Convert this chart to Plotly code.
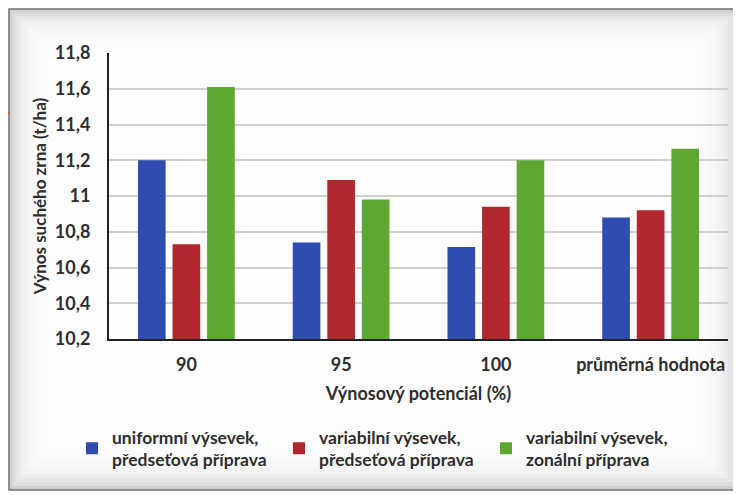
import plotly.graph_objects as go

categories = ["90", "95", "100", "průměrná hodnota"]
series_names = [
    "uniformní výsevek,<br>předseťová příprava",
    "variabilní výsevek,<br>předseťová příprava",
    "variabilní výsevek,<br>zonální příprava",
]
uniform_pred = [11.20, 10.74, 10.715, 10.88]
variab_pred = [10.73, 11.09, 10.94, 10.92]
variab_zon = [11.61, 10.98, 11.20, 11.265]
colors = ["#2F4DB0", "#B0282D", "#5EA832"]
y_ticks = [10.2, 10.4, 10.6, 10.8, 11.0, 11.2, 11.4, 11.6, 11.8]

# page has an 8px body margin; work in screen coordinates and convert
OFF = 8
SW, SH = 741, 495
W, H = SW - OFF, SH - OFF
PL, PR, PT, PB = 109, 728, 53, 339          # plot area in screen px
L, R, T, B = PL - OFF, SW - PR, PT - OFF, SH - PB
pw, ph = PR - PL, PB - PT
FONT = "Lato"
TXT = "#2e2e2e"

def px(x):
    return (x - PL) / pw

def py(y):
    return (PB - y) / ph

fig = go.Figure()
for name, vals, col in zip(series_names, [uniform_pred, variab_pred, variab_zon], colors):
    fig.add_trace(go.Bar(x=categories, y=vals, name=name, marker_color=col,
                         marker_line_width=0))

shapes = [
    dict(type="rect", xref="paper", yref="paper", x0=px(9), x1=px(760), y0=py(490), y1=py(9),
         fillcolor="#d0d0d0", line=dict(color="#6f6f6f", width=1.5), layer="below"),
]
for k in range(1, 12):
    shapes.append(dict(type="rect", xref="paper", yref="paper",
                       x0=px(9 + 3.5 * k), x1=px(741 - 4.5 * k),
                       y0=py(490 - 4 * k), y1=py(9 + 3.5 * k),
                       fillcolor="white", opacity=0.28, line=dict(width=0), layer="below"))
shapes.append(dict(type="line", xref="paper", yref="paper", x0=px(0), x1=px(10),
                   y0=py(113), y1=py(113), line=dict(color="#e0501a", width=1.5)))

fig.update_layout(
    width=W, height=H,
    margin=dict(l=L, r=R, t=T, b=B, autoexpand=False),
    paper_bgcolor="white", plot_bgcolor="white",
    separators=", ",
    barmode="group", bargap=0.33, bargroupgap=0.2,
    font=dict(family=FONT, size=17, color=TXT),
    shapes=shapes,
    showlegend=True,
    legend=dict(orientation="h", x=px(72), y=py(419), xanchor="left", yanchor="top",
                entrywidth=162, entrywidthmode="pixels", bgcolor="rgba(0,0,0,0)",
                itemwidth=30,
                font=dict(family=FONT, size=17.5, color=TXT, weight="bold"),
                traceorder="normal", itemclick=False),
    xaxis=dict(showline=True, linecolor="#222222", linewidth=2, automargin=False,
               tickfont=dict(family=FONT, size=18, color=TXT, weight="bold"),
               ticklabelstandoff=8,
               title=dict(text="Výnosový potenciál (%)", standoff=14,
                          font=dict(family=FONT, size=18, color=TXT, weight="bold"))),
    yaxis=dict(range=[10.2, 11.8], tickvals=y_ticks, showline=True, linecolor="#222222",
               linewidth=2, showgrid=True, gridcolor="#cfcfcf", gridwidth=1.5,
               automargin=False,
               tickfont=dict(family=FONT, size=18, color=TXT, weight="bold"),
               ticklabelstandoff=13, zeroline=False,
               title=dict(text="Výnos suchého zrna (t/ha)", standoff=4,
                          font=dict(family=FONT, size=17, color=TXT, weight="bold"))),
)

fig.write_html("out.html")
